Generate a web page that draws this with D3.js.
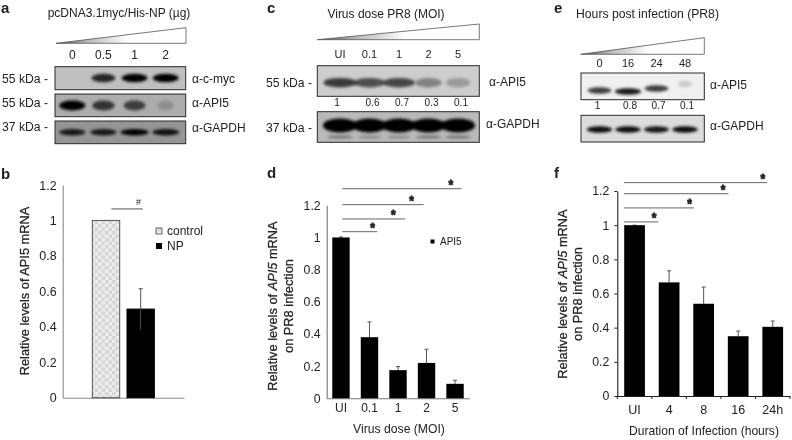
<!DOCTYPE html>
<html>
<head>
<meta charset="utf-8">
<script src="https://cdn.jsdelivr.net/npm/d3@7"></script>
<style>
html, body { margin: 0; padding: 0; background: #fff; }
svg { display: block; }
text { font-family: Arial, "Liberation Sans", sans-serif; fill: #222; }
</style>
</head>
<body>
<svg id="svg1" width="792" height="440"></svg>
<script>
// values
var lanesA = ['0', '0.5', '1', '2'];
var mycA = [0, 0.8, 1, 1];
var api5A = [1, 0.7, 0.65, 0.18];
var gapdhA = [0.85, 0.85, 1, 0.9];

var lanesC = ['UI', '0.1', '1', '2', '5'];
var api5C = [0.72, 0.62, 0.66, 0.36, 0.24];
var ratiosC = ['1', '0.6', '0.7', '0.3', '0.1'];
var gapdhC = [1, 1, 1, 1, 1];
var gapdhLowerC = [0.45, 0.3, 0.3, 0.45, 0.45];

var lanesE = ['0', '16', '24', '48'];
var api5E = [0.75, 0.9, 0.75, 0.15];
var ratiosE = ['1', '0.8', '0.7', '0.1'];
var gapdhE = [0.95, 0.95, 0.9, 0.95];

var groupsB = ['control', 'NP'];
var valuesB = [1, 0.5];
var errorsB = [0, 0.115];
var yTicks = [0, 0.2, 0.4, 0.6, 0.8, 1, 1.2];

var doseD = ['UI', '0.1', '1', '2', '5'];
var valuesD = [1, 0.38, 0.175, 0.22, 0.09];
var errorsD = [0.003, 0.095, 0.022, 0.085, 0.022];
var sigLevelsD = [1.036, 1.115, 1.204, 1.303];
var sigEndsD = [1.27, 2.25, 2.9, 4.23];
var sigStarsD = [1.11, 1.84, 2.48, 3.85];

var hoursF = ['UI', '4', '8', '16', '24h'];
var valuesF = [1, 0.665, 0.54, 0.35, 0.405];
var errorsF = [0, 0.068, 0.098, 0.03, 0.034];
var sigLevelsF = [1.019, 1.101, 1.184, 1.249];
var sigEndsF = [0.69, 1.72, 2.72, 3.84];
var sigStarsF = [0.565, 1.59, 2.56, 3.71];

var svg = d3.select('svg');
var defs = svg.append('defs');

defs.append('filter').attr('id', 'soft')
    .attr('x', '-30%').attr('y', '-80%').attr('width', '160%').attr('height', '260%')
    .append('feGaussianBlur').attr('stdDeviation', 1.7);

defs.append('filter').attr('id', 'jpeg')
    .attr('filterUnits', 'userSpaceOnUse')
    .attr('x', 0).attr('y', 0).attr('width', 792).attr('height', 440)
    .append('feGaussianBlur').attr('stdDeviation', 0.4);

var stipple = defs.append('pattern').attr('id', 'stipple')
    .attr('patternUnits', 'userSpaceOnUse')
    .attr('width', 7).attr('height', 7);
stipple.append('rect').attr('width', 7).attr('height', 7).attr('fill', '#ececec');
stipple.append('rect').attr('width', 3.5).attr('height', 3.5).attr('fill', '#d6d6d6');
stipple.append('rect').attr('x', 3.5).attr('y', 3.5).attr('width', 3.5).attr('height', 3.5).attr('fill', '#d6d6d6');

var wedgeFill = defs.append('linearGradient').attr('id', 'wedgeFill');
wedgeFill.append('stop').attr('offset', '0%').attr('stop-color', '#555');
wedgeFill.append('stop').attr('offset', '25%').attr('stop-color', '#bbb');
wedgeFill.append('stop').attr('offset', '55%').attr('stop-color', '#fff');

var root = svg.append('g').attr('filter', 'url(#jpeg)');

function label(x, y, str, size, anchor, weight) {
    return root.append('text')
        .attr('x', x).attr('y', y)
        .attr('font-size', size)
        .attr('text-anchor', anchor || 'start')
        .attr('font-weight', weight || 'normal')
        .text(str);
}

function wedge(x0, x1, yBottom, yTop) {
    root.append('path')
        .attr('d', d3.line()([[x0, yBottom], [x1, yTop], [x1, yBottom]]) + 'Z')
        .attr('fill', 'url(#wedgeFill)')
        .attr('stroke', '#555')
        .attr('stroke-width', 0.8);
}

// one blot strip: grey box, a blurred band per lane
function blot(box, lanes, xRange, values, opt) {
    var x = d3.scalePoint().domain(lanes).range(xRange);
    var rx = d3.scaleLinear().domain([0, 1]).range(opt.rx);
    var g = root.append('g');
    if (opt.bg) {
        g.append('rect')
            .attr('x', box[0]).attr('y', box[2])
            .attr('width', box[1] - box[0]).attr('height', box[3] - box[2])
            .attr('fill', opt.bg);
    }
    g.selectAll('ellipse').data(values).enter().append('ellipse')
        .attr('cx', function(d, i) { return x(lanes[i]); })
        .attr('cy', function(d, i) { return opt.y + (opt.shift ? opt.shift[i] : 0); })
        .attr('rx', function(d) { return rx(d); })
        .attr('ry', opt.ry)
        .attr('fill', '#050505')
        .attr('opacity', function(d) { return d; })
        .attr('filter', 'url(#soft)');
    if (opt.frame) {
        g.append('rect')
            .attr('x', box[0]).attr('y', box[2])
            .attr('width', box[1] - box[0]).attr('height', box[3] - box[2])
            .attr('fill', 'none')
            .attr('stroke', '#2a2a2a')
            .attr('stroke-width', 1);
    }
    return x;
}

// panel a
label(1, 13, 'a', 15, 'start', 'bold');
label(119, 17, 'pcDNA3.1myc/His-NP (µg)', 12, 'middle');
wedge(56, 186, 43.3, 27.7);
var laneA = [72.3, 165.7];
var xA = d3.scalePoint().domain(lanesA).range(laneA);
lanesA.forEach(function(d) { label(xA(d), 59, d, 12, 'middle'); });
blot([55, 185.7, 66.7, 89.7], lanesA, laneA, mycA, { bg: '#c0c0c0', y: 78, ry: 4.2, rx: [8, 13], frame: true });
blot([55, 185.7, 94, 116.7], lanesA, laneA, api5A, { bg: '#adadad', y: 105.5, ry: 5, rx: [7, 13], frame: true });
blot([55, 185.7, 121, 143.7], lanesA, laneA, gapdhA, { bg: '#959595', y: 132.3, ry: 3.2, rx: [8, 14], frame: true });
label(2, 83, '55 kDa -', 12.2);
label(2, 107, '55 kDa -', 12.2);
label(2, 131, '37 kDa -', 12.2);
label(192, 83, 'α-c-myc', 12);
label(192, 107, 'α-API5', 12);
label(192, 132, 'α-GAPDH', 12);

// panel c
label(267, 13, 'c', 15, 'start', 'bold');
label(386, 17.5, 'Virus dose PR8 (MOI)', 12, 'middle');
wedge(317.3, 479.3, 39.7, 24);
var laneC = [340, 458];
var xC = d3.scalePoint().domain(lanesC).range(laneC);
lanesC.forEach(function(d) { label(xC(d), 58, d, 11, 'middle'); });
blot([317.3, 479.3, 65.7, 96.3], lanesC, laneC, api5C, { bg: '#cdcdcd', y: 82.7, ry: 4.8, rx: [10, 19], frame: true });
ratiosC.forEach(function(d, i) { label(xC(lanesC[i]) + (i == 0 ? -3 : 3), 106, d, 10, 'middle'); });
blot([317.3, 479.3, 111.7, 142.3], lanesC, laneC, gapdhC, { bg: '#b9b9b9', y: 125.5, ry: 7, rx: [8, 17], frame: false });
blot([317.3, 479.3, 111.7, 142.3], lanesC, laneC, gapdhLowerC, { y: 137, ry: 1.3, rx: [10, 16], frame: true });
label(266, 87, '55 kDa -', 12.2);
label(266, 132, '37 kDa -', 12.2);
label(489, 86, 'α-API5', 12);
label(486, 128, 'α-GAPDH', 12);

// panel e
label(554, 13, 'e', 15, 'start', 'bold');
label(647.5, 18, 'Hours post infection (PR8)', 12.2, 'middle');
wedge(580.7, 704.3, 54.3, 37.7);
var laneE = [599.5, 685];
var xE = d3.scalePoint().domain(lanesE).range(laneE);
lanesE.forEach(function(d) { label(xE(d), 67, d, 11, 'middle'); });
blot([581, 704.3, 73, 99.7], lanesE, laneE, api5E, { bg: '#f0f0f0', y: 90.5, ry: 3.2, rx: [6, 14], shift: [0, 1, -2, -6.5], frame: true });
ratiosE.forEach(function(d, i) { label(xE(lanesE[i]) + (i == 0 ? -2 : 2), 108.7, d, 10, 'middle'); });
blot([581, 704.3, 115.3, 142], lanesE, laneE, gapdhE, { bg: '#dcdcdc', y: 129.5, ry: 3.2, rx: [8, 13], frame: true });
label(710, 89, 'α-API5', 12);
label(710, 130, 'α-GAPDH', 12);

// bar panels
function barPanel(cfg) {
    var x = d3.scaleBand().domain(cfg.cats).range(cfg.xRange)
        .paddingInner(cfg.pi).paddingOuter(cfg.po);
    var y = d3.scaleLinear().domain([0, 1.2]).range(cfg.yRange);

    var g = root.append('g');

    var yAxis = g.append('g')
        .attr('transform', 'translate(' + cfg.xRange[0] + ',0)')
        .call(d3.axisLeft(y).tickValues(yTicks).tickSize(cfg.tick).tickSizeOuter(0).tickPadding(cfg.pad).tickFormat(function(d) { return d; }));
    var xAxis = g.append('g')
        .attr('transform', 'translate(0,' + cfg.yRange[0] + ')')
        .call(d3.axisBottom(x).tickSize(0).tickPadding(cfg.xPad));
    if (cfg.hideX) xAxis.selectAll('text').remove();

    [yAxis, xAxis].forEach(function(a) {
        a.select('.domain').attr('stroke', cfg.axisColor).attr('stroke-width', 1.1);
        a.selectAll('.tick line').attr('stroke', cfg.axisColor);
        a.selectAll('text').attr('font-size', cfg.tickFont).attr('font-family', 'Arial, "Liberation Sans", sans-serif');
    });
    yAxis.selectAll('text').attr('font-size', cfg.yFont);

    // ticks on the x axis of panel f sit between the bars
    if (cfg.tick > 0) {
        xAxis.selectAll('.between').data(d3.range(cfg.cats.length + 1)).enter().append('line')
            .attr('x1', function(d) { return cfg.xRange[0] + d * x.step(); })
            .attr('x2', function(d) { return cfg.xRange[0] + d * x.step(); })
            .attr('y1', 0).attr('y2', 3)
            .attr('stroke', cfg.axisColor);
    }

    g.selectAll('.err').data(cfg.values).enter().append('path')
        .attr('class', 'err')
        .attr('d', function(d, i) {
            var cx = x(cfg.cats[i]) + x.bandwidth() / 2;
            var top = y(d + cfg.errors[i]);
            return 'M' + (cx - 2) + ',' + top + 'H' + (cx + 2) + 'M' + cx + ',' + top + 'V' + y(d);
        })
        .attr('stroke', '#555').attr('stroke-width', 1).attr('fill', 'none');

    g.selectAll('.bar').data(cfg.values).enter().append('rect')
        .attr('class', 'bar')
        .attr('x', function(d, i) { return x(cfg.cats[i]); })
        .attr('y', function(d) { return y(d); })
        .attr('width', x.bandwidth())
        .attr('height', function(d) { return cfg.yRange[0] - y(d); })
        .attr('fill', function(d, i) { return cfg.fills ? cfg.fills[i] : '#000'; })
        .attr('stroke', function(d, i) { return cfg.strokes ? cfg.strokes[i] : 'none'; });

    return { x: x, y: y, g: g, at: function(i) {
        return x(cfg.cats[0]) + x.bandwidth() / 2 + i * x.step();
    } };
}

function sigLines(p, start, levels, ends, stars, color) {
    p.g.selectAll('.sig').data(levels).enter().append('line')
        .attr('class', 'sig')
        .attr('x1', p.at(start))
        .attr('x2', function(d, i) { return p.at(ends[i]); })
        .attr('y1', function(d) { return p.y(d); })
        .attr('y2', function(d) { return p.y(d); })
        .attr('stroke', color).attr('stroke-width', 1);
    p.g.selectAll('.star').data(levels).enter().append('text')
        .attr('class', 'star')
        .attr('x', function(d, i) { return p.at(stars[i]); })
        .attr('y', function(d) { return p.y(d) + 0.5; })
        .attr('text-anchor', 'middle')
        .attr('font-size', 12)
        .attr('font-weight', 'bold')
        .attr('stroke', '#222').attr('stroke-width', 0.8)
        .text('*');
}

// panel b
label(1, 179, 'b', 15, 'start', 'bold');
var pB = barPanel({
    cats: groupsB, values: valuesB, errors: errorsB,
    xRange: [62.7, 184], yRange: [397.7, 185], pi: 0.21, po: 0.855,
    tick: 0, pad: 6, xPad: 9, axisColor: '#8a8a8a', tickFont: 12, yFont: 12.5, hideX: true,
    fills: ['url(#stipple)', '#000'], strokes: ['#555', '#000']
});
pB.g.append('line')
    .attr('x1', pB.at(1)).attr('x2', pB.at(1))
    .attr('y1', pB.y(valuesB[1] - errorsB[1])).attr('y2', pB.y(valuesB[1]))
    .attr('stroke', '#555').attr('stroke-width', 1);
pB.g.append('line')
    .attr('x1', pB.at(0.155)).attr('x2', pB.at(1.06))
    .attr('y1', pB.y(1.065)).attr('y2', pB.y(1.065))
    .attr('stroke', '#555');
label(pB.at(0.94), 205, '#', 9, 'middle');
root.append('rect').attr('x', 156).attr('y', 228).attr('width', 6).attr('height', 6)
    .attr('fill', 'url(#stipple)').attr('stroke', '#444').attr('stroke-width', 0.8);
root.append('rect').attr('x', 156).attr('y', 243).attr('width', 6).attr('height', 6).attr('fill', '#000');
label(167, 235, 'control', 12);
label(167, 250, 'NP', 12);
root.append('text')
    .attr('transform', 'translate(29,291) rotate(-90)')
    .attr('text-anchor', 'middle').attr('font-size', 12.8).attr('stroke', '#222').attr('stroke-width', 0.25)
    .text('Relative levels of API5 mRNA');

// y titles of d and f have an italic gene name
function yTitle(x, y) {
    var t = root.append('text')
        .attr('transform', 'translate(' + x + ',' + y + ') rotate(-90)')
        .attr('text-anchor', 'middle').attr('font-size', 12.8)
        .attr('stroke', '#222').attr('stroke-width', 0.25);
    t.append('tspan').text('Relative levels of ');
    t.append('tspan').attr('font-style', 'italic').text('API5');
    t.append('tspan').text(' mRNA');
}
function yTitle2(x, y) {
    root.append('text')
        .attr('transform', 'translate(' + x + ',' + y + ') rotate(-90)')
        .attr('text-anchor', 'middle').attr('font-size', 12.8)
        .attr('stroke', '#222').attr('stroke-width', 0.25)
        .text('on PR8 infection');
}

// panel d
label(267, 178, 'd', 15, 'start', 'bold');
var pD = barPanel({
    cats: doseD, values: valuesD, errors: errorsD,
    xRange: [326.7, 469.3], yRange: [398.3, 205.3], pi: 0.39, po: 0.195,
    tick: 0, pad: 6, xPad: 5, axisColor: '#777', tickFont: 12, yFont: 12.3
});
sigLines(pD, 0.05, sigLevelsD, sigEndsD, sigStarsD, '#666');
root.append('rect').attr('x', 430.5).attr('y', 239.5).attr('width', 4).attr('height', 4).attr('fill', '#000');
label(440, 244.5, 'API5', 10);
yTitle(277, 306);
yTitle2(293, 306);
label(399, 433, 'Virus dose (MOI)', 12.2, 'middle');

// panel f
label(554, 178, 'f', 15, 'start', 'bold');
var pF = barPanel({
    cats: hoursF, values: valuesF, errors: errorsF,
    xRange: [617.3, 790], yRange: [396, 191], pi: 0.4, po: 0.2,
    tick: 3, pad: 5, xPad: 9, axisColor: '#222', tickFont: 12.5, yFont: 12.3
});
sigLines(pF, -0.31, sigLevelsF, sigEndsF, sigStarsF, '#666');
yTitle(567, 294);
yTitle2(582, 294);
label(704, 435, 'Duration of Infection (hours)', 12.1, 'middle');
</script>
</body>
</html>
